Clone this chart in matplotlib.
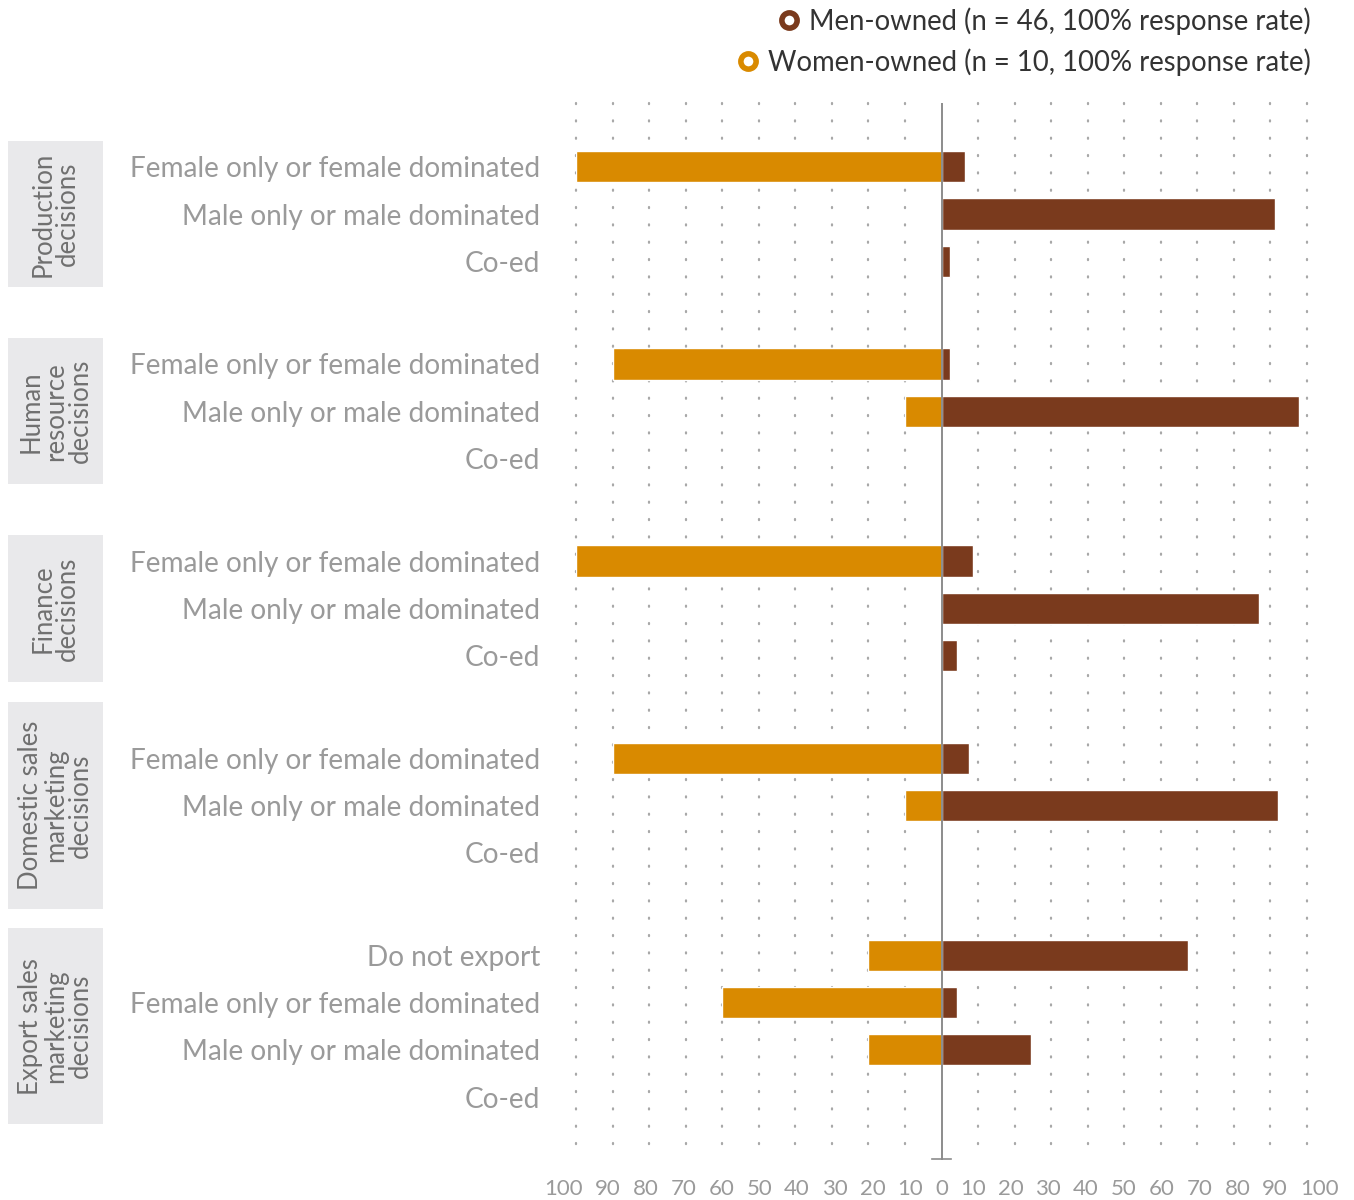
import matplotlib
matplotlib.use("Agg")
import matplotlib.pyplot as plt
import matplotlib.transforms as mtransforms
from matplotlib.patches import Rectangle
from matplotlib.lines import Line2D

plt.rcParams['font.family'] = ['Lato', 'DejaVu Sans']

# data
group_names = ["Production\ndecisions", "Human\nresource\ndecisions", "Finance\ndecisions",
               "Domestic sales\nmarketing\ndecisions", "Export sales\nmarketing\ndecisions"]
row_groups = [0, 0, 0, 1, 1, 1, 2, 2, 2, 3, 3, 3, 4, 4, 4, 4]
row_labels = ["Female only or female dominated", "Male only or male dominated", "Co-ed",
              "Female only or female dominated", "Male only or male dominated", "Co-ed",
              "Female only or female dominated", "Male only or male dominated", "Co-ed",
              "Female only or female dominated", "Male only or male dominated", "Co-ed",
              "Do not export", "Female only or female dominated", "Male only or male dominated", "Co-ed"]
women_vals = [100, 0, 0, 90, 10, 0, 100, 0, 0, 90, 10, 0, 20, 60, 20, 0]
men_vals = [6.5, 91.3, 2.2, 2.2, 97.8, 0, 8.7, 87, 4.3, 7.5, 92, 0, 67.4, 4.3, 24.5, 0]
ticks = list(range(-100, 101, 10))

men_label = "Men-owned (n = 46, 100% response rate)"
women_label = "Women-owned (n = 10, 100% response rate)"

MEN_C = "#7a3a1d"
WOMEN_C = "#d98a00"
LABEL_C = "#9a9a9a"

# row positions, extra gap between groups
pos = []
y = 0.0
prev = None
for g in row_groups:
    if prev is not None:
        y += 1 if g == prev else 2.17
    pos.append(y)
    prev = g

fig = plt.figure(figsize=(13.54, 12), dpi=100)
ax = fig.add_axes([576 / 1354, 40 / 1200, 731 / 1354, 1057 / 1200])

ax.barh(pos, [-v for v in women_vals], height=0.66, color=WOMEN_C, edgecolor="white", linewidth=1, zorder=2)
ax.barh(pos, men_vals, height=0.66, color=MEN_C, edgecolor="white", linewidth=1, zorder=2)

ax.set_xlim(-100, 100)
ax.set_ylim(pos[-1] + 1.33, -1.35)

# dotted grid
grid_x = [t for t in ticks if t != 0]
ax.vlines(grid_x, -1.35, pos[-1] + 1.05, colors="#a8a8a8", linestyles=(0, (0.5, 7.3)),
          linewidth=1.6, capstyle="round", zorder=1, clip_on=False)
ax.axvline(0, color="#8c8c8c", linewidth=1.4, zorder=3)
ax.plot([-2.7, 2.7], [pos[-1] + 1.3, pos[-1] + 1.3], color="#8c8c8c", linewidth=1.2, zorder=3, clip_on=False)

ax.set_xticks(ticks)
ax.set_xticklabels([str(abs(t)) for t in ticks])
ax.set_yticks(pos)
ax.set_yticklabels(row_labels)
ax.tick_params(axis="x", length=0, pad=14, labelsize=16, labelcolor=LABEL_C)
ax.tick_params(axis="y", length=0, pad=26, labelsize=20.2, labelcolor=LABEL_C)
for s in ax.spines.values():
    s.set_visible(False)

# x labels in the original run together like one line of text, centred on 0
fig.canvas.draw()
renderer = fig.canvas.get_renderer()
xlabels = ax.get_xticklabels()
widths = [l.get_window_extent(renderer).width for l in xlabels]
gap = 12
total = sum(widths) + gap * (len(widths) - 1)
x_zero = ax.transData.transform((0, 0))[0]
cursor = x_zero - total / 2
for lbl, t, w in zip(xlabels, ticks, widths):
    center = cursor + w / 2
    shift = center - ax.transData.transform((t, 0))[0]
    lbl.set_transform(lbl.get_transform() + mtransforms.ScaledTranslation(shift / fig.dpi, 0, fig.dpi_scale_trans))
    cursor += w + gap

# group boxes on the left
box_pad = [0.55, 0.55, 0.55, 1.18, 0.57]
trans = mtransforms.blended_transform_factory(fig.transFigure, ax.transData)
for gi, name in enumerate(group_names):
    ys = [p for p, g in zip(pos, row_groups) if g == gi]
    top = ys[0] - box_pad[gi]
    bottom = ys[-1] + box_pad[gi]
    ax.add_patch(Rectangle((8 / 1354, top), 95 / 1354, bottom - top, transform=trans,
                           facecolor="#e9e9eb", edgecolor="none", clip_on=False))
    ax.text(55.5 / 1354, (top + bottom) / 2, name, transform=trans, rotation=90,
            ha="center", va="center", multialignment="center", fontsize=18.5,
            color="#707070", linespacing=0.98)

# legends
h_men = Line2D([], [], marker="o", linestyle="none", markersize=11, markerfacecolor="white",
               markeredgecolor=MEN_C, markeredgewidth=4)
h_women = Line2D([], [], marker="o", linestyle="none", markersize=11, markerfacecolor="white",
                 markeredgecolor=WOMEN_C, markeredgewidth=4)
leg1 = ax.legend([h_men], [men_label], loc="upper right", bbox_to_anchor=(1311 / 1354, 1 - 7 / 1200),
                 bbox_transform=fig.transFigure, frameon=False, fontsize=19.8, labelcolor="#333333",
                 handlelength=0.8, handletextpad=0.35, borderpad=0, borderaxespad=0)
ax.add_artist(leg1)
ax.legend([h_women], [women_label], loc="upper right", bbox_to_anchor=(1311 / 1354, 1 - 48 / 1200),
          bbox_transform=fig.transFigure, frameon=False, fontsize=19.8, labelcolor="#333333",
          handlelength=0.8, handletextpad=0.35, borderpad=0, borderaxespad=0)

fig.savefig("out.png", dpi=100)
